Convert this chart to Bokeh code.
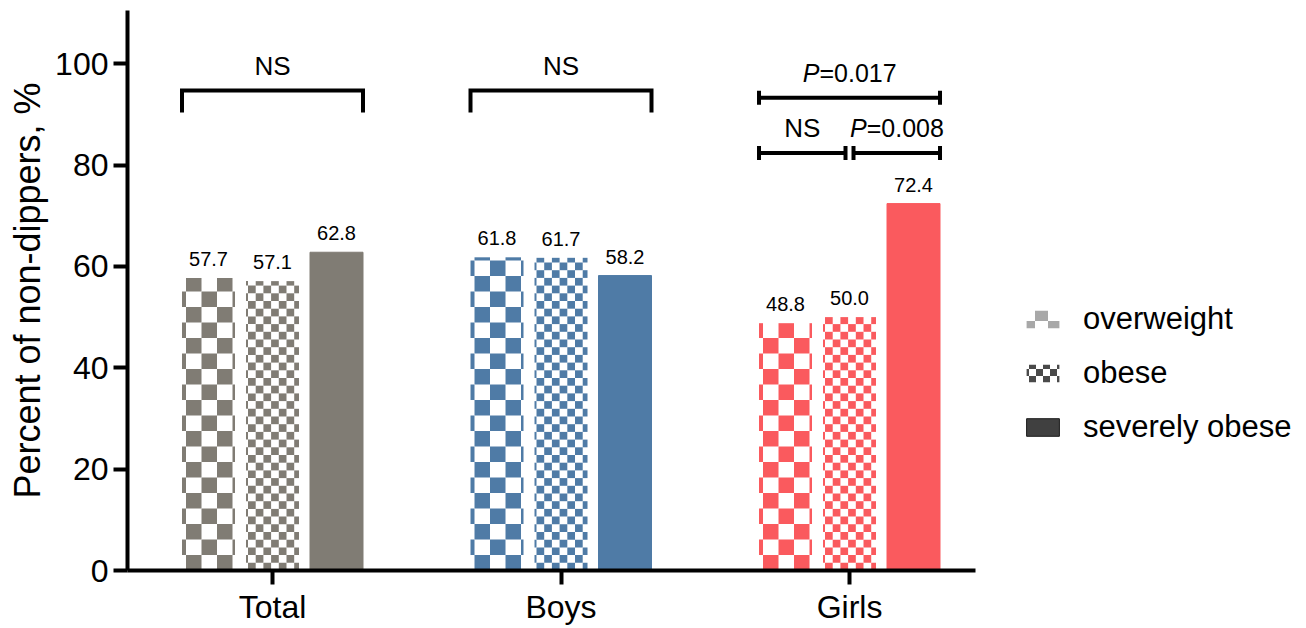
import math
import base64
from bokeh.plotting import figure
from bokeh.models import Legend, LegendItem, FixedTicker, Range1d, ImageURLTexture
from bokeh.core.properties import value
from bokeh.embed import file_html
from bokeh.resources import INLINE

# ---------------- data ----------------
groups = ["Total", "Boys", "Girls"]
overweight = [57.7, 61.8, 48.8]
obese = [57.1, 61.7, 50.0]
severely_obese = [62.8, 58.2, 72.4]
group_colors = ["#807C74", "#4F7BA6", "#FA5A5E"]
series_names = ["overweight", "obese", "severely obese"]
legend_colors = ["#A8A8A8", "#4A4A4A", "#404040"]

y_ticks = [0, 20, 40, 60, 80, 100]
y_label = "Percent of non-dippers, %"

comp_group = [0, 1, 2, 2, 2]
comp_from = [0, 0, 0, 0, 1]
comp_to = [2, 2, 2, 1, 2]
comp_level = [94.7, 94.7, 93.3, 82.4, 82.4]
comp_label = ["NS", "NS", "P=0.017", "NS", "P=0.008"]
comp_style = ["legs", "legs", "caps", "caps", "caps"]

# ---------------- layout ----------------
FONT = "Liberation Sans"
W, H = 1300, 628
BL, BR, BT, BB = 127, 0, 10, 58
X0, XAX1 = 0.4974, 3.4367          # x-axis extent
Y0, Y1 = 0.0, 110.5
FW = W - BL - BR
FH = H - BT - BB
AXW = 848                            # pixel length of the x axis
px_x = AXW / (XAX1 - X0)
X1 = X0 + FW / px_x
px_y = FH / (Y1 - Y0)
OFF = 64 / px_x
BW = 53 / px_x

p = figure(width=W, height=H, output_backend="svg", toolbar_location=None,
           x_range=Range1d(X0, X1), y_range=Range1d(Y0, Y1),
           min_border_left=BL, min_border_right=BR,
           min_border_top=BT, min_border_bottom=BB)
p.outline_line_color = None
p.xgrid.visible = False
p.ygrid.visible = False
p.background_fill_color = "white"
p.border_fill_color = "white"

def bar_center(g, t):
    return g + 1 + (t - 1) * OFF

# ---------------- checker bars ----------------
def checker(g, t, val, cell_px, anchor_px, out):
    cx = cell_px / px_x
    cy = cell_px / px_y
    c = bar_center(g, t)
    left, right = c - BW / 2, c + BW / 2
    a = left + anchor_px / px_x
    j0 = math.floor((left - a) / cx)
    j1 = math.ceil((right - a) / cx)
    nrows = math.ceil(val / cy)
    for i in range(nrows):
        for j in range(j0, j1):
            if (i + j) % 2:
                continue
            l = max(left, a + j * cx)
            r = min(right, a + (j + 1) * cx)
            b = i * cy
            tp = min(val, (i + 1) * cy)
            if r > l and tp > b:
                out["left"].append(l); out["right"].append(r)
                out["bottom"].append(b); out["top"].append(tp)
                out["color"].append(group_colors[g])

cells = {"left": [], "right": [], "bottom": [], "top": [], "color": []}
for g in range(len(groups)):
    checker(g, 0, overweight[g], 15.5, 4, cells)
    checker(g, 1, obese[g], 7.7, 2, cells)
p.quad(left="left", right="right", bottom="bottom", top="top",
       fill_color="color", line_color=None, source=cells)

# solid bars
p.vbar(x=[bar_center(g, 2) for g in range(len(groups))], top=severely_obese,
       width=BW, bottom=0, fill_color=group_colors, line_color=group_colors,
       line_width=1)

# value labels
lx, ly, lt = [], [], []
for t, ser in enumerate([overweight, obese, severely_obese]):
    for g in range(len(groups)):
        lx.append(bar_center(g, t)); ly.append(ser[g]); lt.append(f"{ser[g]:.1f}")
p.text(x=lx, y=ly, text=lt, text_align="center", text_baseline="bottom",
       y_offset=-12, text_font=value(FONT), text_font_size="20px", text_color="black")

# ---------------- comparison brackets ----------------
gap = 4 / px_x
leg = 22 / px_y
cap = 7 / px_y
xs, ys = [], []
tx_plain, ty_plain, tt_plain = [], [], []
tx_p, ty_p, tt_p = [], [], []
for g, f, to, lev, lab, st in zip(comp_group, comp_from, comp_to, comp_level, comp_label, comp_style):
    x_l = bar_center(g, f) - BW / 2 if f == 0 else bar_center(g, f) + gap
    x_r = bar_center(g, to) + BW / 2 if to == 2 else bar_center(g, to) - gap
    if st == "legs":
        xs.append([x_l, x_l, x_r, x_r]); ys.append([lev - leg, lev, lev, lev - leg])
    else:
        xs.append([x_l, x_r]); ys.append([lev, lev])
        xs.append([x_l, x_l]); ys.append([lev - cap, lev + cap])
        xs.append([x_r, x_r]); ys.append([lev - cap, lev + cap])
    xc = (x_l + x_r) / 2
    if lab.startswith("P="):
        tx_p.append(xc); ty_p.append(lev + 4.9); tt_p.append(lab[1:])
    else:
        tx_plain.append(xc); ty_plain.append(lev + 4.9); tt_plain.append(lab)
p.multi_line(xs=xs, ys=ys, line_color="black", line_width=4, line_cap="butt", line_join="miter")
p.text(x=tx_plain, y=ty_plain, text=tt_plain, text_align="center", text_baseline="middle",
       text_font=value(FONT), text_font_size="26px", text_color="black")
p.text(x=tx_p, y=ty_p, text=["P"] * len(tx_p), text_align="right", text_baseline="middle",
       x_offset=-30, text_font=value(FONT), text_font_style="italic",
       text_font_size="25px", text_color="black")
p.text(x=tx_p, y=ty_p, text=tt_p, text_align="left", text_baseline="middle",
       x_offset=-30, text_font=value(FONT), text_font_size="25px", text_color="black")

# ---------------- axes ----------------
for ax in (p.xaxis[0], p.yaxis[0]):
    ax.axis_line_width = 4
    ax.axis_line_color = "black"
    ax.major_tick_line_width = 4
    ax.major_tick_line_color = "black"
    ax.major_tick_out = 14
    ax.major_tick_in = 0
    ax.minor_tick_out = 0
    ax.minor_tick_in = 0
    ax.major_label_text_font = FONT
    ax.major_label_text_font_size = "32px"
    ax.major_label_text_color = "black"

p.xaxis.ticker = FixedTicker(ticks=[1, 2, 3])
p.xaxis.bounds = (X0, XAX1)
p.xaxis.major_label_overrides = {i + 1: grp for i, grp in enumerate(groups)}
p.xaxis.major_label_standoff = 4
p.xaxis.axis_label_standoff = 0
p.yaxis.ticker = FixedTicker(ticks=y_ticks)
p.yaxis.major_label_standoff = 5
p.yaxis.axis_label = y_label
p.yaxis.axis_label_text_font = FONT
p.yaxis.axis_label_text_font_size = "36px"
p.yaxis.axis_label_text_font_style = "normal"
p.yaxis.axis_label_text_color = "black"
p.yaxis.axis_label_standoff = 4

# ---------------- legend ----------------
def checker_tex(size, color):
    svg = (f"<svg xmlns='http://www.w3.org/2000/svg' width='{2*size}' height='{2*size}'>"
           f"<rect x='0' y='0' width='{2*size}' height='{2*size}' fill='white'/>"
           f"<rect x='{size}' y='0' width='{size}' height='{size}' fill='{color}'/>"
           f"<rect x='0' y='{size}' width='{size}' height='{size}' fill='{color}'/></svg>")
    url = "data:image/svg+xml;base64," + base64.b64encode(svg.encode()).decode()
    return ImageURLTexture(url=url, repetition="repeat")

nan = float("nan")
r_ow = p.quad(left=[nan], right=[nan], bottom=[nan], top=[nan], fill_color="white",
              hatch_pattern=dict(value="ow"), hatch_extra={"ow": checker_tex(13, legend_colors[0])},
              line_color=None)
r_ob = p.quad(left=[nan], right=[nan], bottom=[nan], top=[nan], fill_color="white",
              hatch_pattern=dict(value="ob"), hatch_extra={"ob": checker_tex(7, legend_colors[1])},
              line_color=None)
r_so = p.quad(left=[nan], right=[nan], bottom=[nan], top=[nan], fill_color=legend_colors[2],
              line_color="#1A1A1A", line_width=1)
legend = Legend(items=[LegendItem(label=series_names[0], renderers=[r_ow]),
                       LegendItem(label=series_names[1], renderers=[r_ob]),
                       LegendItem(label=series_names[2], renderers=[r_so])],
                location=(AXW + 47, 125), glyph_width=41, glyph_height=22,
                label_text_font=FONT, label_text_font_size="31px",
                label_text_color="black", label_standoff=20, label_height=30,
                spacing=18, padding=0, margin=0, border_line_color=None,
                background_fill_alpha=0)
p.add_layout(legend)

open("out.html", "w").write(file_html(p, INLINE))
